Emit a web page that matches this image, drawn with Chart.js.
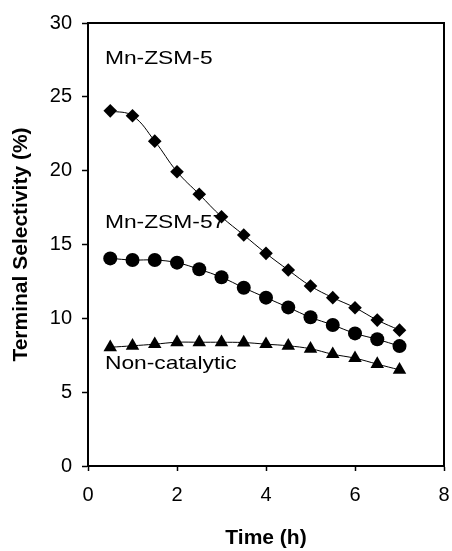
<!DOCTYPE html>
<html>
<head>
<meta charset="utf-8">
<script src="https://cdn.jsdelivr.net/npm/chart.js@4"></script>
<style>
  body { margin: 0; background: #fff; }
  canvas { display: block; }
</style>
</head>
<body>
<canvas id="chart" width="452" height="551"></canvas>
<script>
// reaction time (h)
const timeH = [0.5, 1, 1.5, 2, 2.5, 3, 3.5, 4, 4.5, 5, 5.5, 6, 6.5, 7];

// terminal selectivity (%) per catalyst
const mnZsm5 = [24.05, 23.72, 22.0, 19.93, 18.4, 16.88, 15.64, 14.4, 13.27, 12.19, 11.4, 10.72, 9.88, 9.2];
const mnZsm57 = [14.06, 13.95, 13.95, 13.77, 13.32, 12.78, 12.07, 11.4, 10.74, 10.07, 9.55, 8.98, 8.58, 8.12];
const nonCatalytic = [8.04, 8.14, 8.25, 8.38, 8.38, 8.38, 8.36, 8.25, 8.14, 7.94, 7.57, 7.3, 6.9, 6.51];

const seriesNames = ['Mn-ZSM-5', 'Mn-ZSM-57', 'Non-catalytic'];
const pointShapes = ['rectRot', 'circle', 'triangle'];
const pointSizes = [6.8, 7, 7.8];

// text labels next to each curve, in axis units
const labelX = [0.38, 0.38, 0.38];
const labelY = [27.6, 16.5, 6.95];

const FONT = '"Liberation Sans", Arial, sans-serif';

function toPoints(ys) {
  return timeH.map((t, i) => ({ x: t, y: ys[i] }));
}

const datasets = [mnZsm5, mnZsm57, nonCatalytic].map((ys, i) => ({
  label: seriesNames[i],
  data: toPoints(ys),
  borderColor: '#000',
  borderWidth: 1,
  backgroundColor: '#000',
  pointStyle: pointShapes[i],
  pointRadius: pointSizes[i],
  pointBackgroundColor: '#000',
  pointBorderWidth: 0,
  tension: 0.4,
  clip: false
}));

// box around the plot area
const frame = {
  id: 'frame',
  afterDraw(chart) {
    const { ctx, chartArea: a } = chart;
    ctx.save();
    ctx.strokeStyle = '#000';
    ctx.lineWidth = 2;
    ctx.strokeRect(a.left, a.top, a.right - a.left, a.bottom - a.top);
    ctx.restore();
  }
};

// series names written inside the plot
const seriesLabels = {
  id: 'seriesLabels',
  afterDatasetsDraw(chart) {
    const { ctx, scales } = chart;
    ctx.save();
    ctx.fillStyle = '#000';
    ctx.font = '19px ' + FONT;
    ctx.textBaseline = 'middle';
    ctx.textAlign = 'left';
    seriesNames.forEach((name, i) => {
      const px = scales.x.getPixelForValue(labelX[i]);
      const py = scales.y.getPixelForValue(labelY[i]);
      ctx.save();
      ctx.translate(px, py);
      ctx.scale(1.2, 1);
      ctx.fillText(name, 0, 0);
      ctx.restore();
    });
    ctx.restore();
  }
};

new Chart(document.getElementById('chart'), {
  type: 'line',
  data: { datasets },
  options: {
    responsive: false,
    devicePixelRatio: 1,
    animation: false,
    layout: { padding: { top: 23, right: 8, left: 0, bottom: 0 } },
    plugins: { legend: { display: false }, tooltip: { enabled: false } },
    scales: {
      x: {
        type: 'linear',
        min: 0,
        max: 8,
        afterFit(scale) {
          scale.height = 85;
          scale.paddingLeft = 0;
          scale.paddingRight = 0;
        },
        ticks: { stepSize: 2, color: '#000', font: { family: FONT, size: 20 }, padding: 12 },
        grid: { drawOnChartArea: false, color: '#000', tickLength: 5, tickWidth: 1.5 },
        border: { color: '#000', width: 2 },
        title: {
          display: true,
          text: 'Time (h)',
          color: '#000',
          font: { family: FONT, size: 21, weight: 'bold' },
          padding: { top: 0, bottom: 0 }
        }
      },
      y: {
        min: 0,
        max: 30,
        afterFit(scale) {
          scale.width = 88;
          scale.paddingTop = 0;
          scale.paddingBottom = 0;
        },
        ticks: { stepSize: 5, color: '#000', font: { family: FONT, size: 20 }, padding: 10 },
        grid: { drawOnChartArea: false, color: '#000', tickLength: 6, tickWidth: 1.5 },
        border: { color: '#000', width: 2 },
        title: {
          display: true,
          text: 'Terminal Selectivity (%)',
          color: '#000',
          font: { family: FONT, size: 21, weight: 'bold' },
          padding: { top: 9, bottom: 0 }
        }
      }
    }
  },
  plugins: [frame, seriesLabels]
});
</script>
</body>
</html>
